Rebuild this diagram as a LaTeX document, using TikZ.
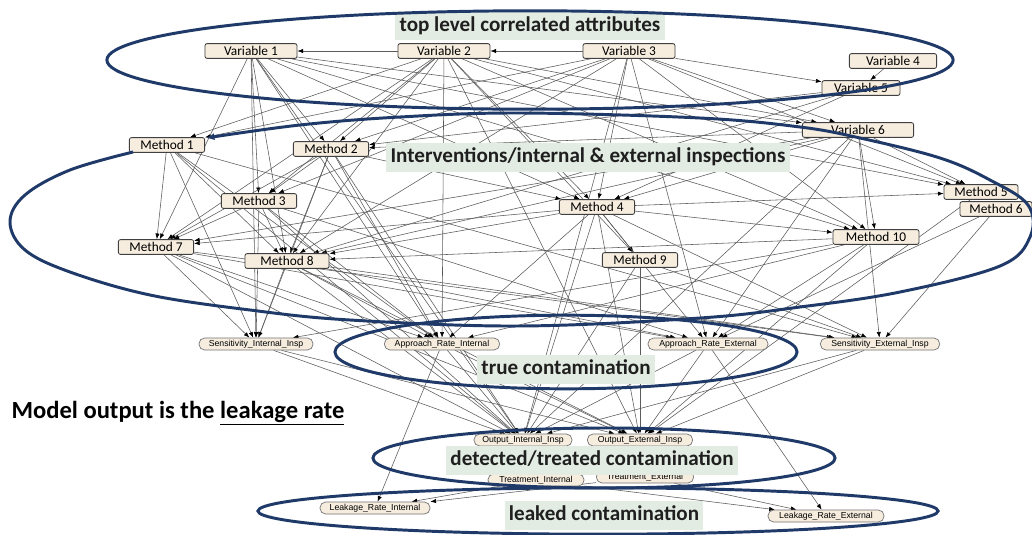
\documentclass[tikz,border=0pt]{standalone}
\usepackage{fontspec}
\setmainfont{Carlito}
\newfontfamily\genie{Liberation Sans}
\usetikzlibrary{arrows.meta,backgrounds}

\definecolor{nodefill}{HTML}{F6EDDF}
\definecolor{tagfill}{HTML}{E3ECE3}
\definecolor{ringblue}{HTML}{1F3A68}
\definecolor{arcgrey}{HTML}{5C5C5C}

\begin{document}
\begin{tikzpicture}[
  x=0.025cm, y=-0.025cm,
  var/.style={
    rectangle, rounded corners=1.5pt, draw=black!75, fill=nodefill,
    line width=0.6pt, minimum width=1.88cm, minimum height=0.37cm,
    inner sep=1pt, font=\fontsize{9.5}{10}\selectfont},
  prob/.style={
    rectangle, rounded corners=4pt, draw=black!55, fill=nodefill,
    line width=0.5pt, minimum height=0.3cm, inner sep=1pt,
    font=\genie\fontsize{6.2}{7}\selectfont},
  tag/.style={
    fill=tagfill, inner xsep=3pt, inner ysep=3pt,
    text height=11pt, text depth=3.5pt, text=black!88,
    font=\bfseries\fontsize{15}{17}\selectfont},
  ring/.style={draw=ringblue, line width=2.1pt},
  arr/.style={-{Latex[length=4pt,width=3pt,color=black]},
    draw=arcgrey, line width=0.4pt},
]
  \useasboundingbox (0,0) rectangle (1032,534);

  % top level variables
  \node[var, minimum width=2.3cm]  (v1) at (251,51) {Variable 1};
  \node[var, minimum width=2.3cm]  (v2) at (444,51) {Variable 2};
  \node[var, minimum width=2.3cm]  (v3) at (629,51) {Variable 3};
  \node[var, minimum width=2.18cm] (v4) at (893,61) {Variable 4};
  \node[var, minimum width=1.95cm] (v5) at (861,88) {Variable 5};
  \node[var, minimum width=2.78cm] (v6) at (858,130) {Variable 6};

  % methods
  \node[var] (m1) at (167,145) {Method 1};
  \node[var] (m2) at (331,149) {Method 2};
  \node[var] (m3) at (259,201) {Method 3};
  \node[var] (m4) at (597,207) {Method 4};
  \node[var, minimum width=1.85cm] (m5) at (981,192) {Method 5};
  \node[var, minimum width=1.8cm]  (m6) at (996,209) {Method 6};
  \node[var] (m7) at (156,247) {Method 7};
  \node[var, minimum width=2.1cm]  (m8) at (287,261) {Method 8};
  \node[var] (m9) at (640,260) {Method 9};
  \node[var, minimum width=2.15cm] (m10) at (876,237) {Method 10};

  % contamination chain
  \node[prob, minimum width=2.85cm] (sensInt) at (256,344) {Sensitivity\_Internal\_Insp};
  \node[prob, minimum width=2.88cm] (apprInt) at (442,344) {Approach\_Rate\_Internal};
  \node[prob, minimum width=3cm]    (apprExt) at (708,344) {Approach\_Rate\_External};
  \node[prob, minimum width=2.98cm] (sensExt) at (880,344) {Sensitivity\_External\_Insp};
  \node[prob, minimum width=2.45cm] (outInt) at (523,440) {Output\_Internal\_Insp};
  \node[prob, minimum width=2.63cm] (outExt) at (640,440) {Output\_External\_Insp};
  \node[prob, minimum width=2.4cm]  (treatInt) at (536,480) {Treatment\_Internal};
  \node[prob, minimum width=2.43cm] (treatExt) at (645,477) {Treatment\_External};
  \node[prob, minimum width=2.75cm] (leakInt) at (375,508) {Leakage\_Rate\_Internal};
  \node[prob, minimum width=2.9cm]  (leakExt) at (826,516) {Leakage\_Rate\_External};

  \begin{scope}[on background layer]
    \fill[white] (0,0) rectangle (1032,534);
    \draw[arr] (v2) -- (v1);
    \draw[arr] (v3) -- (v2);
    \draw[arr] (v4) -- (v5);
    \draw[arr] (v3) -- (v5);
    \foreach \t in {m7,m3,m8,sensInt,m2,apprInt,m4,v6,m10,m5,outInt}
      \draw[arr] (v1) -- (\t);
    \foreach \t in {m1,m2,m3,m7,m8,apprInt,m4,v6,m10,m5,outExt,m9}
      \draw[arr] (v2) -- (\t);
    \foreach \t in {m1,m2,m3,m8,m4,apprExt,v6,m10,m5,outInt}
      \draw[arr] (v3) -- (\t);
    \foreach \t in {m2,m4,m8}
      \draw[arr] (v5) -- (\t);
    \foreach \t in {m2,m4,m10,m5,apprExt,sensExt,m8,m7,outInt}
      \draw[arr] (v6) -- (\t);
    \foreach \t in {m7,sensInt,m8,apprInt,sensExt,outInt}
      \draw[arr] (m1) -- (\t);
    \foreach \t in {m3,m7,m8,sensInt,apprInt,outInt,m4}
      \draw[arr] (m2) -- (\t);
    \foreach \t in {m7,m8,sensInt,apprInt,outInt,apprExt}
      \draw[arr] (m3) -- (\t);
    \foreach \t in {m9,m7,m8,apprInt,apprExt,sensExt,outInt,outExt,m5,m10}
      \draw[arr] (m4) -- (\t);
    \draw[arr] (m5) -- (outExt);
    \foreach \t in {apprExt,sensExt}
      \draw[arr] (m6) -- (\t);
    \foreach \t in {sensInt,apprInt,outInt,sensExt,apprExt,outExt}
      \draw[arr] (m7) -- (\t);
    \foreach \t in {sensInt,apprInt,outInt,outExt,sensExt,apprExt}
      \draw[arr] (m8) -- (\t);
    \foreach \t in {outExt,outInt,sensExt}
      \draw[arr] (m9) -- (\t);
    \foreach \t in {sensInt,apprExt,outExt,m8,apprInt}
      \draw[arr] (m10) -- (\t);
    \foreach \t in {outInt,outExt}
      \draw[arr] (sensInt) -- (\t);
    \foreach \t in {outInt,outExt,leakInt}
      \draw[arr] (apprInt) -- (\t);
    \foreach \t in {outInt,outExt,leakExt}
      \draw[arr] (apprExt) -- (\t);
    \foreach \t in {outExt,outInt}
      \draw[arr] (sensExt) -- (\t);
    \draw[arr] (outInt) -- (treatInt);
    \draw[arr] (outExt) -- (treatExt);
    \foreach \t in {leakInt,leakExt}
      \draw[arr] (treatInt) -- (\t);
    \foreach \t in {leakExt,leakInt}
      \draw[arr] (treatExt) -- (\t);
  \end{scope}

  % group labels
  \node[tag] (topTag)    at (530,26)    {top level correlated attributes};
  \node[tag] (methTag)   at (588,157.5) {Interventions/internal \& external inspections};
  \node[tag] (trueTag)   at (566,369.5) {true contamination};
  \node[tag] (detTag)    at (592,460.5) {detected/treated contamination};
  \node[tag] (leakTag)   at (604,515.5) {leaked contamination};
  \node[font=\bfseries\fontsize{17.5}{20}\selectfont, inner sep=0pt]
      (modelOut) at (178,413) {Model output is the \underline{leakage rate}};

  % hand drawn rings
  \draw[ring] (530,60) ellipse [x radius=10.575cm, y radius=1.23cm];
  \draw[ring, -{Latex[length=6pt,width=5pt]}] plot[smooth, tension=0.6] coordinates {
      (133,152) (70,170) (25,195) (10,222) (25,250) (70,272) (150,295)
      (250,310) (350,320) (520,326) (700,318) (800,307) (900,292)
      (1000,266) (1030,237) (1028,205) (990,180) (940,158) (860,138)
      (800,127) (700,118) (520,113) (400,117) (300,125) (206,138)};
  \draw[ring] (566,352) ellipse [x radius=5.775cm, y radius=0.92cm];
  \draw[ring] (604,458) ellipse [x radius=5.775cm, y radius=0.75cm];
  \draw[ring] (598,511) ellipse [x radius=8.5cm, y radius=0.58cm];
\end{tikzpicture}
\end{document}
